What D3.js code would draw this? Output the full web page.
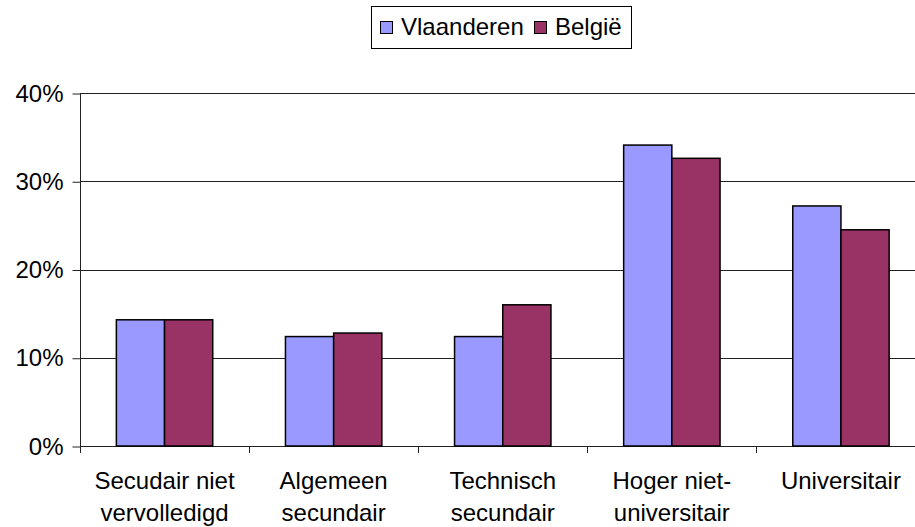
<!DOCTYPE html>
<html>
<head>
<meta charset="utf-8">
<script src="https://cdn.jsdelivr.net/npm/d3@7"></script>
<style>
  html, body { margin: 0; padding: 0; background: #fff; }
  svg { display: block; }
  text { font-family: "Liberation Sans", Arial, sans-serif; fill: #000; }
</style>
</head>
<body>
<svg id="chart" width="915" height="527"></svg>
<script>
const categories = [
  ["Secudair niet", "vervolledigd"],
  ["Algemeen", "secundair"],
  ["Technisch", "secundair"],
  ["Hoger niet-", "universitair"],
  ["Universitair"]
];
const seriesNames = ["Vlaanderen", "België"];
const seriesColors = ["#9999FF", "#993366"];
const vlaanderen = [14.3, 12.4, 12.4, 34.1, 27.2];
const belgie = [14.3, 12.8, 16.0, 32.6, 24.5];
const yTicks = [0, 10, 20, 30, 40];
const yTickLabels = ["0%", "10%", "20%", "30%", "40%"];

const series = [vlaanderen, belgie];
const catKeys = categories.map(c => c.join(" "));

const svg = d3.select("#chart");
const pLeft = 80, pRight = 925.5, pTop = 93, pBottom = 446;

const x0 = d3.scaleBand().domain(catKeys).range([pLeft, pRight])
  .paddingInner(0.43).paddingOuter(0.215);
const x1 = d3.scaleBand().domain(seriesNames).range([0, x0.bandwidth()]);
const xb = d3.scaleBand().domain(catKeys).range([pLeft, pRight]);
const y = d3.scaleLinear().domain([0, 40]).range([pBottom, pTop]);

// gridlines
svg.append("g").selectAll("line").data(yTicks.filter(d => d > 0)).join("line")
  .attr("x1", pLeft).attr("x2", pRight)
  .attr("y1", d => Math.round(y(d)) + 0.5).attr("y2", d => Math.round(y(d)) + 0.5)
  .attr("stroke", "#222").attr("stroke-width", 1);

// y axis
const yAxis = d3.axisLeft(y).tickValues(yTicks)
  .tickFormat((d, i) => yTickLabels[i]).tickSize(8).tickPadding(9);
const gy = svg.append("g").attr("transform", `translate(${pLeft + 0.5},0.5)`).call(yAxis);
gy.select(".domain").attr("stroke", "#222").attr("d", `M0,${pTop}V${pBottom}`);
gy.selectAll(".tick line").attr("stroke", "#222");
gy.selectAll(".tick text").style("font-size", "24px").style("font-family", "'Liberation Sans', Arial, sans-serif").attr("fill", "#000");

// x axis baseline and ticks
svg.append("line").attr("x1", pLeft).attr("x2", pRight)
  .attr("y1", pBottom + 0.5).attr("y2", pBottom + 0.5).attr("stroke", "#222");
const boundaries = catKeys.map(k => xb(k)).concat([pRight]);
svg.append("g").selectAll("line").data(boundaries).join("line")
  .attr("x1", d => Math.round(d) + 0.5).attr("x2", d => Math.round(d) + 0.5)
  .attr("y1", pBottom).attr("y2", pBottom + 7).attr("stroke", "#222");

// bars
const groups = svg.append("g").selectAll("g").data(catKeys).join("g")
  .attr("transform", d => `translate(${x0(d)},0)`);
groups.selectAll("rect").data((d, i) => seriesNames.map((s, j) => ({ s, j, v: series[j][i] })))
  .join("rect")
  .attr("x", d => x1(d.s))
  .attr("width", x1.bandwidth())
  .attr("y", d => y(d.v))
  .attr("height", d => pBottom - y(d.v))
  .attr("fill", d => seriesColors[d.j])
  .attr("stroke", "#000").attr("stroke-width", 1.5);

// x labels
const xl = svg.append("g").selectAll("text").data(categories).join("text")
  .attr("x", (d, i) => x0(catKeys[i]) + x0.bandwidth() / 2)
  .attr("y", 489)
  .attr("text-anchor", "middle")
  .style("font-size", "24px");
xl.selectAll("tspan").data(d => d).join("tspan")
  .attr("x", function () { return d3.select(this.parentNode).attr("x"); })
  .attr("dy", (d, i) => i === 0 ? 0 : 32)
  .text(d => d);

// legend
const lg = svg.append("g");
lg.append("rect").attr("x", 371.5).attr("y", 6.5).attr("width", 260).attr("height", 42)
  .attr("fill", "#fff").attr("stroke", "#000").attr("stroke-width", 1);
const legendX = [380, 534];
seriesNames.forEach((s, j) => {
  lg.append("rect").attr("x", legendX[j] + 0.5).attr("y", 21.5).attr("width", 12).attr("height", 12)
    .attr("fill", seriesColors[j]).attr("stroke", "#000").attr("stroke-width", 1);
  lg.append("text").attr("x", legendX[j] + 21).attr("y", 35)
    .style("font-size", "24px").text(s);
});
</script>
</body>
</html>
